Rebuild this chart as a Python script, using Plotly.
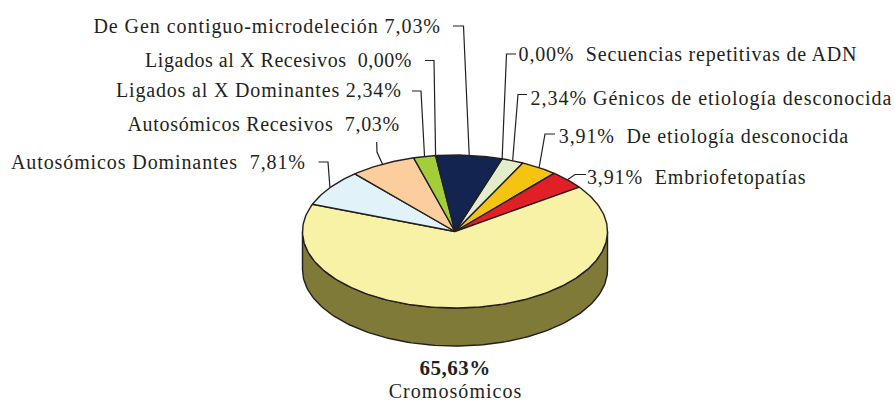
import json
import numpy as np
import plotly.graph_objects as go

# clockwise from the first slice after the top-right zero slice
categories = ["Secuencias repetitivas de ADN", "Génicos de etiología desconocida",
              "De etiología desconocida", "Embriofetopatías", "Cromosómicos",
              "Autosómicos Dominantes", "Autosómicos Recesivos",
              "Ligados al X Dominantes", "Ligados al X Recesivos",
              "De Gen contiguo-microdeleción"]
values = [0.00, 2.34, 3.91, 3.91, 65.63, 7.81, 7.03, 2.34, 0.00, 7.03]
colors = ["#E4EDCB", "#E4EDCB", "#F5C413", "#E01F26", "#F7F2A6",
          "#E1F2F9", "#FCCE9E", "#A4CE39", "#A4CE39", "#12244F"]

side_color = "#7F7A38"
line_color = "#231F20"
text_color = "#231F20"
font_family = "Liberation Serif"
font_size = 20

# pie geometry in page pixels
cx, cy = 455.0, 231.5
rx, ry = 152.5, 76.5
depth = 38.0
start_angle = 18.0


def rim(angle_deg, dy=0.0):
    a = np.radians(angle_deg)
    return cx + rx*np.sin(a), cy - ry*np.cos(a) + dy


def pct(v):
    return "{:.2f}%".format(v).replace(".", ",")


fig = go.Figure()

# side wall, only the front half of the ellipse shows
t = np.linspace(90, 270, 121)
top_x, top_y = rim(t)
bot_x, bot_y = rim(t[::-1], depth)
fig.add_trace(go.Scatter(x=np.r_[top_x, bot_x, top_x[0]],
                         y=np.r_[top_y, bot_y, top_y[0]],
                         mode="lines", fill="toself", fillcolor=side_color,
                         line={"color": line_color, "width": 1.4},
                         hoverinfo="skip"))

# top face
bounds = start_angle + np.r_[0, np.cumsum(values)]*3.6
for i, v in enumerate(values):
    if v == 0:
        continue
    n = max(int(v*3.6), 2) + 1
    t = np.linspace(bounds[i], bounds[i+1], n)
    xs, ys = rim(t)
    fig.add_trace(go.Scatter(x=np.r_[cx, xs, cx], y=np.r_[cy, ys, cy],
                             mode="lines", fill="toself", fillcolor=colors[i],
                             line={"color": line_color, "width": 1.4},
                             name=categories[i], hoverinfo="name"))

# leader elbows for each category, same index as values
leaders = {
    0: [(506.5, 54), (516, 54)],
    1: [(518, 94.5), (527, 94.5)],
    2: [(545, 134), (555, 134)],
    3: [(575, 174.5), (586, 174.5)],
    5: [(328, 162), (318.5, 162)],
    6: [(377, 152), (376.7, 142)],
    7: [(421, 91), (412, 91)],
    8: [(434, 60.5), (425, 60.5)],
    9: [(463.5, 26), (453, 26)],
}
for i, pts in leaders.items():
    x0, y0 = rim((bounds[i] + bounds[i+1])/2)
    fig.add_trace(go.Scatter(x=[x0] + [p[0] for p in pts],
                             y=[y0] + [p[1] for p in pts],
                             mode="lines", hoverinfo="skip",
                             line={"color": line_color, "width": 1.2}))

# label centre x, centre y, letter spacing, spaces before/after the value
right_labels = {0: (687.5, 54, 0.8, 2), 1: (711.5, 98, 0.97, 1),
                2: (703.5, 136, 0.85, 2), 3: (697, 177, 0.87, 2)}
left_labels = {9: (267, 26, 0.95, 1), 8: (278, 60, 0.55, 2), 7: (258.5, 90, 0.83, 1),
               6: (263, 124, 0.68, 2), 5: (158, 162, 0.9, 2)}

font = {"family": font_family, "size": font_size, "color": text_color}
tracking = []
for i, (x, y, sp, gap) in right_labels.items():
    fig.add_annotation(x=x, y=y, text=pct(values[i]) + "\u00a0"*gap + categories[i],
                       showarrow=False, font=font)
    tracking.append(sp)
for i, (x, y, sp, gap) in left_labels.items():
    fig.add_annotation(x=x, y=y, text=categories[i] + "\u00a0"*gap + pct(values[i]),
                       showarrow=False, font=font)
    tracking.append(sp)
fig.add_annotation(x=455, y=368, text="<b>" + pct(values[4]) + "</b>", showarrow=False,
                   font={"family": font_family, "size": 21, "color": text_color})
tracking.append(0.5)
fig.add_annotation(x=455, y=391, text=categories[4], showarrow=False, font=font)
tracking.append(1.05)

fig.update_layout(
    width=895, height=401,
    margin={"l": 0, "r": 0, "t": 0, "b": 0},
    paper_bgcolor="white", plot_bgcolor="white",
    showlegend=False,
    xaxis={"range": [0, 895], "visible": False, "fixedrange": True},
    yaxis={"range": [401, 0], "visible": False, "fixedrange": True},
)

# plotly has no letter spacing option, the source type is tracked wide
post = ("document.body.style.margin='0';"
        "var sp=" + json.dumps(tracking) + ";"
        "document.querySelectorAll('.annotation-text').forEach(function(t,i){"
        "t.style.letterSpacing=sp[i]+'px';});")
fig.write_html("out.html", post_script=post, config={"displayModeBar": False})
